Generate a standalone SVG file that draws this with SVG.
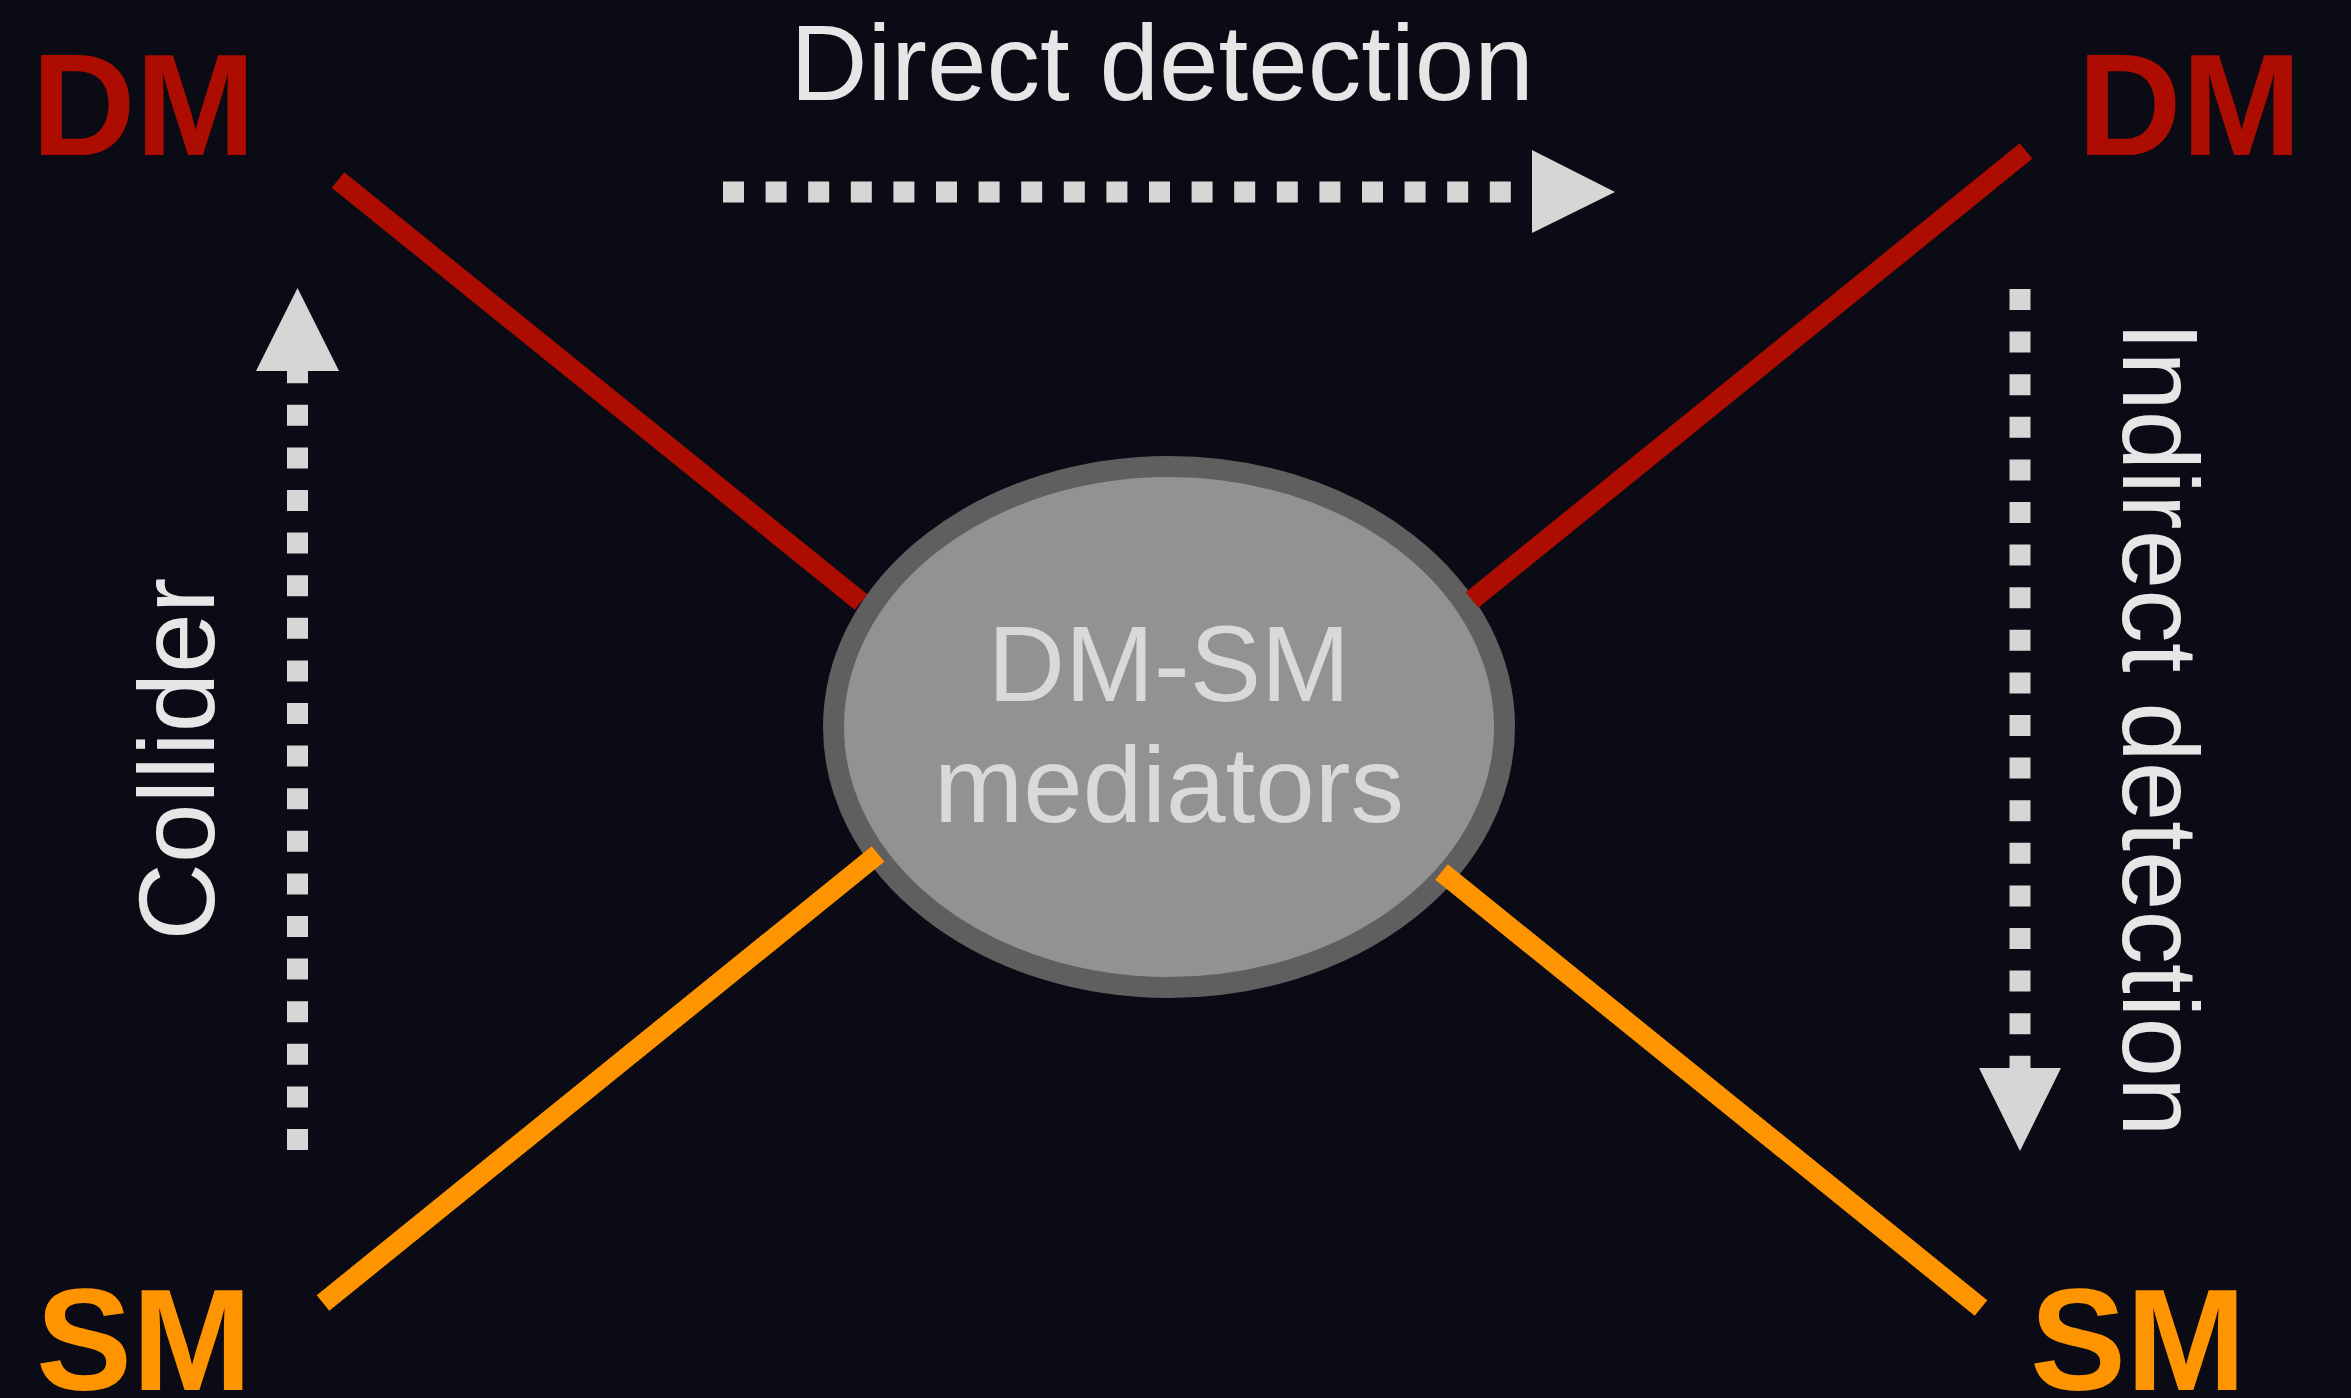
<svg xmlns="http://www.w3.org/2000/svg" width="2351" height="1398" viewBox="0 0 2351 1398">
  <style>
    .particle { font-family: "Liberation Sans", Arial, sans-serif; font-weight: bold; font-size: 144px; }
    .dm { fill: #ad0d00; }
    .sm { fill: #fe9400; }
    .label { font-family: "Liberation Sans", Arial, sans-serif; font-size: 107px; fill: #e6e6e6; }
    .center-text { font-family: "Liberation Sans", Arial, sans-serif; font-size: 107px; fill: #d9d9d9; text-anchor: middle; }
    .leg { fill: none; stroke-width: 20; stroke-linecap: butt; }
    .leg-dm { stroke: #ad0d00; }
    .leg-sm { stroke: #fe9400; }
    .dotted { fill: none; stroke: #d6d6d6; stroke-width: 21; stroke-dasharray: 21 21.6; }
    .head { fill: #d6d6d6; }
  </style>

  <rect width="2351" height="1398" fill="#0a0b14"/>

  <g id="mediators">
    <ellipse cx="1169" cy="727" rx="335.5" ry="260.5" fill="#929292" stroke="#5f5f5f" stroke-width="21"/>
    <text class="center-text" x="1169" y="701">DM-SM</text>
    <text class="center-text" x="1169" y="822">mediators</text>
  </g>

  <!-- interaction legs end on the rim of the mediator blob -->
  <g id="connectors">
    <line class="leg leg-dm" x1="338" y1="180" x2="861" y2="602"/>
    <line class="leg leg-dm" x1="2026" y1="151" x2="1472" y2="600"/>
    <line class="leg leg-sm" x1="323" y1="1303" x2="878" y2="854"/>
    <line class="leg leg-sm" x1="1981" y1="1308" x2="1441.5" y2="872"/>

    <!-- direct detection: left to right along the top -->
    <g id="arrow-direct">
      <path class="dotted" d="M723 192 H1532"/>
      <polygon class="head" points="1532,150 1532,233 1615,192"/>
    </g>
    <!-- indirect detection: downward on the right -->
    <g id="arrow-indirect">
      <path class="dotted" d="M2020 289 V1068"/>
      <polygon class="head" points="1979,1068 2061,1068 2020,1151"/>
    </g>
    <!-- collider: upward on the left -->
    <g id="arrow-collider">
      <path class="dotted" d="M297.5 1150 V371"/>
      <polygon class="head" points="256,371 339,371 297.5,288"/>
    </g>
  </g>

  <g id="label-direct">
    <text class="label" x="1162" y="100" text-anchor="middle">Direct detection</text>
  </g>
  <g id="label-indirect">
    <text class="label" text-anchor="middle" transform="translate(2123 729) rotate(90)">Indirect detection</text>
  </g>
  <g id="label-collider">
    <text class="label" text-anchor="middle" transform="translate(214 759) rotate(-90)">Collider</text>
  </g>

  <g id="dm-in">
    <text class="particle dm" x="31.5" y="155">DM</text>
  </g>
  <g id="dm-out">
    <text class="particle dm" x="2077.5" y="155">DM</text>
  </g>
  <g id="sm-in">
    <text class="particle sm" x="36" y="1390">SM</text>
  </g>
  <g id="sm-out">
    <text class="particle sm" x="2030" y="1390">SM</text>
  </g>
</svg>
